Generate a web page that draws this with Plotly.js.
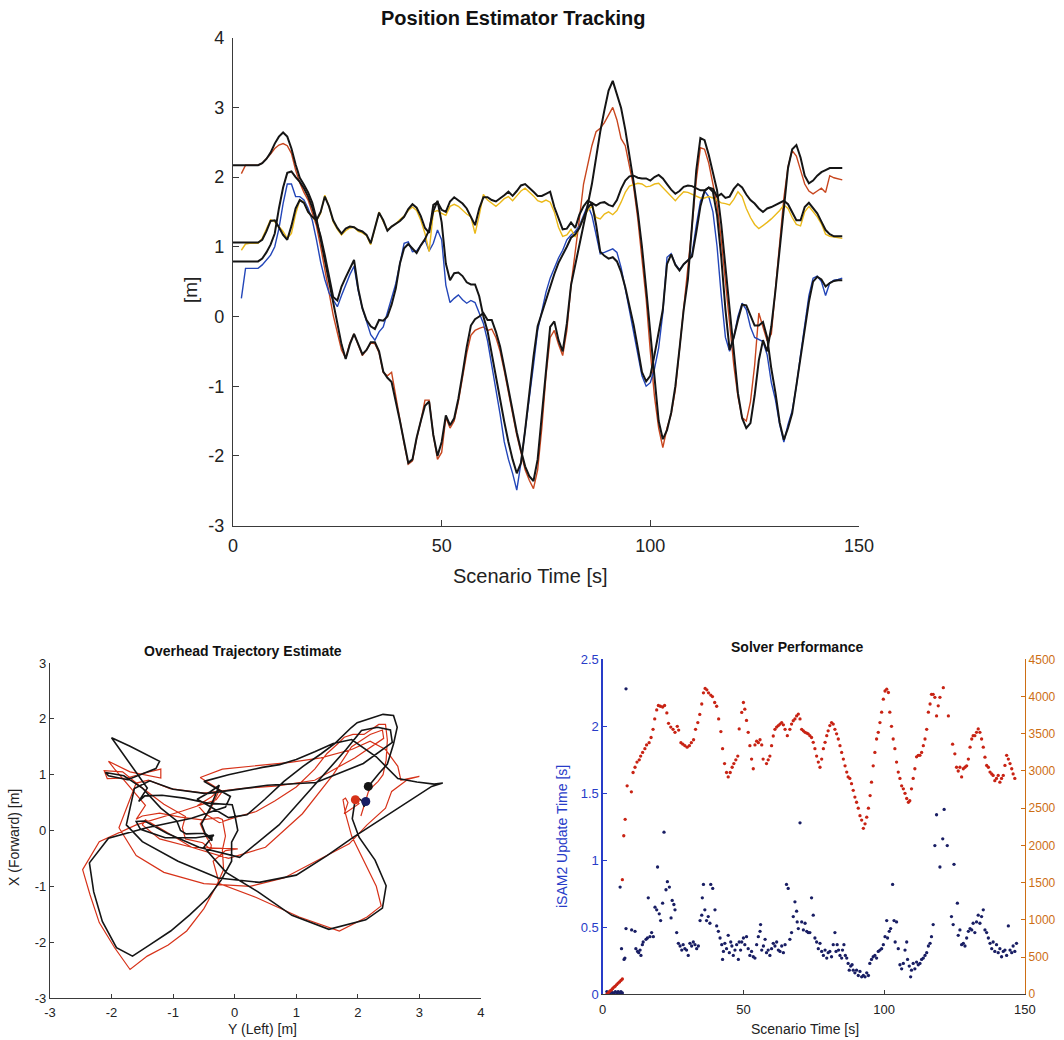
<!DOCTYPE html>
<html>
<head>
<meta charset="utf-8">
<script src="https://cdn.plot.ly/plotly-3.0.1.min.js"></script>
<style>html,body{margin:0;padding:0;background:#fff;}#chart{width:1064px;height:1040px;}</style>
</head>
<body>
<div id="chart"></div>
<script>
// ---------------- DATA ----------------
// Top chart: position tracking, sampled each second (0..146 s)
const scenarioTime = Array.from({length:147}, (_, i) => i);

// Truth "Y (Left)" position (black) and its estimate (red)
const truthLeft = [2.17,2.17,2.17,2.17,2.17,2.17,2.17,2.2,2.26,2.35,2.48,2.58,2.64,2.58,2.41,2.18,1.99,1.89,1.78,1.63,1.4,1.11,0.8,0.49,0.2,-0.1,-0.4,-0.61,-0.4,-0.25,-0.4,-0.54,-0.48,-0.37,-0.37,-0.5,-0.79,-0.88,-0.94,-1.2,-1.5,-1.8,-2.1,-2.05,-1.74,-1.5,-1.28,-1.22,-1.7,-2.0,-1.8,-1.42,-1.56,-1.46,-1.18,-0.82,-0.44,-0.13,-0.04,0.0,0.05,-0.05,-0.05,-0.22,-0.43,-0.73,-1.04,-1.38,-1.66,-1.92,-2.15,-2.29,-2.36,-2.05,-1.43,-0.7,-0.15,-0.07,-0.34,-0.5,-0.1,0.45,0.73,1.0,1.3,1.6,1.9,2.3,2.65,2.96,3.24,3.38,3.2,2.99,2.68,2.32,1.93,1.5,1.0,0.4,-0.27,-0.92,-1.5,-1.76,-1.63,-1.38,-1.0,-0.46,0.1,0.53,1.32,2.09,2.56,2.53,2.32,2.06,1.81,1.32,0.72,0.08,-0.58,-1.1,-1.46,-1.6,-1.53,-1.13,-0.63,-0.34,-0.5,-0.14,0.38,0.93,1.53,2.13,2.4,2.46,2.28,2.02,1.91,1.95,2.02,2.07,2.1,2.13,2.13,2.13,2.13];
const estLeft = [null,null,2.05,2.17,2.17,2.17,2.17,2.2,2.26,2.33,2.41,2.46,2.48,2.45,2.34,2.1,1.92,1.78,1.67,1.5,1.3,1.0,0.65,0.35,0.02,-0.25,-0.48,-0.6,-0.38,-0.25,-0.4,-0.56,-0.48,-0.38,-0.39,-0.52,-0.8,-0.85,-0.8,-1.15,-1.5,-1.82,-2.12,-2.07,-1.75,-1.5,-1.2,-1.2,-1.7,-2.05,-1.95,-1.45,-1.6,-1.5,-1.22,-0.88,-0.53,-0.27,-0.2,-0.17,-0.15,-0.2,-0.18,-0.3,-0.5,-0.78,-1.08,-1.42,-1.7,-1.95,-2.2,-2.35,-2.47,-2.2,-1.6,-0.85,-0.3,-0.2,-0.4,-0.56,-0.2,0.45,0.9,1.4,1.9,2.2,2.45,2.65,2.7,2.78,2.9,3.0,2.82,2.55,2.45,2.15,1.86,1.4,0.8,0.25,-0.5,-1.15,-1.6,-1.88,-1.6,-1.4,-1.05,-0.5,0.1,0.7,1.3,1.95,2.42,2.4,2.2,1.9,1.6,1.1,0.5,-0.1,-0.7,-1.15,-1.45,-1.5,-1.22,-0.7,0.05,-0.15,-0.35,-0.25,0.35,1.05,1.7,2.15,2.38,2.3,2.1,1.9,1.8,1.76,1.8,1.84,1.78,2.02,1.99,1.97,1.96];

// Truth "X (Forward)" position (black) and its estimate (blue)
const truthForward = [0.79,0.79,0.79,0.79,0.79,0.79,0.79,0.83,0.92,1.03,1.19,1.55,1.85,2.06,2.08,2.0,1.93,1.84,1.72,1.56,1.37,1.15,0.88,0.56,0.28,0.23,0.43,0.56,0.69,0.81,0.4,0.12,-0.05,-0.14,-0.18,-0.05,-0.06,0.0,0.17,0.4,0.76,0.98,1.04,0.98,0.91,1.02,1.11,1.24,1.51,1.66,1.35,0.76,0.52,0.62,0.63,0.58,0.49,0.46,0.46,0.29,0.0,-0.21,-0.55,-0.89,-1.2,-1.51,-1.8,-2.05,-2.25,-2.1,-1.63,-1.1,-0.58,-0.14,0.05,0.22,0.42,0.61,0.77,0.88,1.0,1.13,1.18,1.27,1.41,1.56,1.63,1.32,0.93,0.87,0.83,0.85,0.79,0.64,0.42,0.16,-0.12,-0.45,-0.8,-0.93,-0.85,-0.55,-0.2,0.1,0.75,0.89,0.74,0.66,0.75,0.81,0.86,1.2,1.58,1.8,1.85,1.79,1.45,0.85,0.1,-0.48,-0.3,-0.05,0.17,0.16,0.02,-0.13,-0.13,-0.08,-0.3,-0.75,-1.1,-1.52,-1.77,-1.6,-1.39,-0.99,-0.53,-0.12,0.21,0.5,0.57,0.53,0.43,0.48,0.51,0.52,0.52];
const estForward = [null,null,0.26,0.69,0.69,0.69,0.69,0.74,0.81,0.88,1.0,1.26,1.62,1.9,1.9,1.72,1.72,1.67,1.55,1.38,1.1,0.78,0.53,0.34,0.24,0.14,0.3,0.45,0.6,0.72,0.37,0.12,-0.08,-0.26,-0.34,-0.22,-0.15,0.05,0.25,0.47,0.76,1.05,1.07,0.93,0.94,1.02,1.1,0.94,1.05,1.24,1.1,0.45,0.2,0.26,0.31,0.24,0.19,0.23,0.2,0.05,-0.1,-0.35,-0.7,-1.0,-1.4,-1.8,-2.05,-2.25,-2.49,-2.1,-1.65,-1.15,-0.7,-0.2,0.1,0.35,0.55,0.7,0.84,0.95,1.1,1.17,1.22,1.3,1.45,1.6,1.45,1.15,0.9,0.92,0.94,0.97,0.92,0.7,0.4,0.1,-0.24,-0.5,-0.85,-1.0,-0.95,-0.75,-0.45,0.05,0.85,0.9,0.75,0.67,0.75,0.8,0.9,1.3,1.65,1.8,1.72,1.5,1.0,0.3,-0.3,-0.5,-0.3,0.0,0.19,0.1,-0.15,-0.3,-0.33,-0.36,-0.55,-0.95,-1.2,-1.55,-1.8,-1.55,-1.35,-1.0,-0.55,-0.1,0.3,0.55,0.58,0.5,0.3,0.48,0.52,0.53,0.55];

// Truth height (black) and its estimate (yellow)
const truthUp = [1.06,1.06,1.06,1.06,1.06,1.06,1.06,1.1,1.22,1.37,1.38,1.28,1.17,1.1,1.3,1.55,1.67,1.63,1.5,1.43,1.38,1.5,1.72,1.58,1.38,1.27,1.19,1.26,1.29,1.28,1.24,1.22,1.17,1.05,1.29,1.49,1.38,1.23,1.29,1.33,1.37,1.43,1.54,1.61,1.56,1.44,1.27,1.2,1.6,1.64,1.53,1.5,1.65,1.71,1.67,1.62,1.55,1.44,1.31,1.55,1.71,1.71,1.67,1.65,1.69,1.74,1.79,1.73,1.8,1.88,1.9,1.85,1.79,1.73,1.73,1.76,1.79,1.57,1.4,1.25,1.26,1.35,1.27,1.46,1.58,1.66,1.63,1.59,1.63,1.64,1.6,1.58,1.67,1.83,1.95,2.01,2.02,1.99,1.98,1.98,1.95,2.0,2.03,1.98,1.9,1.82,1.76,1.8,1.86,1.88,1.87,1.84,1.81,1.81,1.85,1.83,1.72,1.76,1.7,1.72,1.83,1.9,1.85,1.75,1.67,1.62,1.55,1.5,1.55,1.57,1.6,1.64,1.66,1.61,1.5,1.38,1.38,1.57,1.63,1.56,1.48,1.36,1.24,1.18,1.15,1.15,1.15];
const estUp = [null,null,0.95,1.04,1.05,1.05,1.05,1.12,1.26,1.39,1.36,1.29,1.22,1.12,1.19,1.47,1.67,1.64,1.5,1.42,1.37,1.48,1.74,1.58,1.36,1.25,1.17,1.23,1.27,1.28,1.22,1.2,1.16,1.03,1.27,1.5,1.36,1.24,1.29,1.33,1.39,1.44,1.52,1.57,1.52,1.38,1.19,0.93,1.5,1.52,1.48,1.45,1.58,1.61,1.58,1.52,1.47,1.43,1.19,1.45,1.75,1.67,1.62,1.58,1.63,1.69,1.72,1.66,1.73,1.8,1.84,1.79,1.73,1.66,1.64,1.67,1.64,1.5,1.28,1.15,1.17,1.25,1.14,1.28,1.42,1.52,1.58,1.42,1.4,1.47,1.5,1.46,1.52,1.64,1.78,1.87,1.89,1.91,1.9,1.86,1.87,1.9,1.91,1.85,1.78,1.72,1.66,1.73,1.79,1.78,1.75,1.72,1.7,1.7,1.72,1.7,1.67,1.63,1.62,1.6,1.68,1.79,1.72,1.55,1.42,1.32,1.26,1.3,1.35,1.4,1.46,1.52,1.6,1.55,1.42,1.32,1.3,1.5,1.58,1.5,1.43,1.33,1.18,1.15,1.14,1.13,1.12];

// Solver performance: iSAM2 update time [s] (left axis, blue dots)
const updTime = [1.5,2,2.5,3,3.5,4,4.5,5,5.5,6,6.5,7,6.2,6.7,7.6,7.9,8.3,8.3,10.3,11.5,11.8,12.4,12.8,13.3,13.6,14.1,14.4,15.4,15.9,16.2,16.8,17.4,18,18.6,19.2,19.5,20.1,20.6,21.3,21.8,22.5,23,23.7,24.3,24.7,25.3,25.7,26.3,26.9,27.5,28.1,28.6,29.2,29.8,30.4,31,31.6,32.2,32.8,33.4,34,34.6,35.2,35.4,35.8,36.3,36.9,37.5,38.1,38.4,39.1,39.9,40.5,41.1,41.7,42.3,42.6,42.9,43.4,44,44.6,45,45.5,45.9,46.4,47,47.6,48.2,48.5,49,49.4,50,50.5,51.1,51.7,52.3,52.9,53.5,54.1,54.7,55.3,55.9,56.1,56.5,57.1,57.7,58.2,58.8,59.4,60,60.6,61.2,61.8,62.4,63,63.6,64.2,64.8,65.3,65.9,66.5,67.1,67.7,68.3,68.9,69.1,69.5,70.1,70.7,71.3,71.9,72.5,73,73.6,74.2,74.8,75.4,76,76.6,77.2,77.8,78.4,79,79.6,80.1,80.7,81.3,81.9,82.5,82.9,83.3,83.8,84.3,84.9,85.2,85.7,86.2,86.7,87.2,87.6,88.1,88.6,89,89.6,90.2,90.8,91.4,92,92.6,93.2,93.8,94.4,94.9,95.5,96.1,96.7,97.3,97.9,98.5,99.1,99.7,100.3,100.9,101.2,101.8,102.3,103,103.5,103.9,104.4,105,105.6,106.2,106.8,107.4,108,108.3,108.9,109.4,109.7,110.3,110.9,111.5,112.1,112.7,113.3,113.9,114.5,115.1,115.7,116.3,116.8,117.4,118,118.6,119.8,120.8,121.3,122.4,123.9,124.5,124.8,126,126.3,126.9,127.5,128.1,128.7,129.3,129.9,130.5,131.1,131.6,132.2,132.8,133.4,134,134.6,135.2,135.8,136.4,137,137.6,138.2,138.7,139.3,139.9,140.5,141.1,141.7,142.3,142.9,143.5,144.1,144.7,145.3,145.8,146.4,147];
const updValue = [0.02,0.01,0.01,0.02,0.01,0.01,0.02,0.01,0.02,0.01,0.02,0.01,0.8,0.34,0.26,0.27,0.49,2.28,0.48,0.47,0.34,0.32,0.31,0.33,0.29,0.37,0.39,0.41,0.42,0.72,0.43,0.46,0.43,0.65,0.63,0.95,0.6,0.55,0.68,1.21,0.78,0.84,0.8,0.57,0.7,0.67,0.63,0.46,0.38,0.36,0.33,0.37,0.34,0.33,0.29,0.38,0.36,0.39,0.37,0.34,0.36,0.55,0.59,0.72,0.82,0.63,0.55,0.58,0.53,0.82,0.79,0.63,0.51,0.47,0.42,0.37,0.26,0.32,0.38,0.34,0.44,0.31,0.39,0.36,0.29,0.33,0.37,0.26,0.39,0.33,0.39,0.42,0.37,0.43,0.34,0.29,0.32,0.28,0.27,0.37,0.43,0.47,0.52,0.33,0.36,0.41,0.31,0.33,0.29,0.34,0.38,0.36,0.39,0.33,0.32,0.36,0.31,0.37,0.82,0.79,0.41,0.46,0.58,0.69,0.62,0.54,0.49,1.28,0.54,0.48,0.53,0.47,0.46,0.46,0.72,0.59,0.42,0.39,0.34,0.38,0.32,0.29,0.33,0.27,0.31,0.32,0.28,0.37,0.46,0.32,0.37,0.33,0.29,0.27,0.33,0.37,0.29,0.27,0.23,0.18,0.21,0.22,0.18,0.16,0.18,0.14,0.17,0.13,0.14,0.13,0.16,0.14,0.23,0.26,0.28,0.29,0.27,0.32,0.33,0.34,0.37,0.43,0.55,0.42,0.47,0.49,0.82,0.55,0.39,0.54,0.34,0.22,0.19,0.23,0.33,0.39,0.26,0.21,0.13,0.18,0.23,0.19,0.24,0.22,0.23,0.26,0.27,0.29,0.31,0.36,0.38,0.43,0.52,1.11,1.34,0.95,1.16,1.38,1.11,0.58,0.52,0.97,0.68,0.44,0.48,0.37,0.38,0.36,0.42,0.47,0.49,0.48,0.53,0.46,0.54,0.59,0.53,0.58,0.63,0.48,0.46,0.42,0.38,0.34,0.39,0.32,0.37,0.31,0.34,0.28,0.32,0.33,0.29,0.51,0.33,0.31,0.36,0.32,0.38];

// Solver performance: right-axis count (red dots)
const cntTime = [1.5,2,2.5,3,3.5,4,4.5,5,5.5,6,6.5,7,7.0,7.5,8.0,8.7,10.2,10.8,11.5,12.2,13,13.5,14.2,15,15.6,16.5,17.2,17.9,18.5,19.2,19.8,20.5,21.3,22,22.8,23.4,24.2,25,25.7,26.5,27,27.8,28.5,29.2,30,30.8,31.5,32.3,33,33.8,34.5,35.2,35.8,36.4,37,37.6,38.4,39,39.8,40.5,41.2,42,42.6,43.3,44,44.6,45.3,46,46.6,47.3,48,48.5,49.4,50,50.5,51.1,51.7,52.3,52.9,53.5,54.1,54.7,55.3,55.9,56.5,57,58.2,58.8,59.4,60,60.6,61.2,61.8,62.4,63,63.6,64.2,64.8,65.6,66.5,67.1,67.7,68.3,68.9,69.5,70.1,70.7,71.3,71.9,72.5,73,73.6,74.2,74.8,75.4,76,76.6,77.2,77.8,78.4,79,79.6,80.1,80.7,81.3,81.9,82.5,83.1,83.7,84.3,84.9,85.5,86.1,86.7,87.2,87.8,88.4,89,89.6,90.2,90.8,91.4,92,92.6,93.2,93.8,94.4,95,95.5,96.1,96.7,97.3,97.9,98.5,99.1,99.7,100.3,100.9,101.5,102,102.6,103.2,103.8,104.4,105,105.6,106.2,106.8,107.4,108,108.6,109.1,109.7,110.3,110.9,111.5,112.1,112.7,113.3,113.9,114.5,115.1,115.7,116.3,116.8,117.4,118,118.6,119.2,119.8,121,122.8,124.3,125.1,125.7,126.3,126.9,127.5,128.1,128.7,129.3,129.9,130.5,131.1,131.6,132.2,132.8,133.4,134,134.6,135.2,135.8,136.4,137,137.6,138.2,138.7,139.3,139.9,140.5,141.1,141.7,142.3,142.9,143.5,144.1,144.7,145.3,145.8,146.4];
const cntValue = [0,20,40,55,75,95,110,130,150,165,185,205,1540,2130,2350,2800,2720,2980,3050,3120,3150,3200,3250,3300,3350,3380,3450,3560,3700,3820,3880,3870,3860,3880,3780,3640,3590,3560,3520,3600,3550,3380,3360,3340,3320,3340,3380,3420,3560,3650,3760,3900,4050,4110,4090,4050,4020,4000,3920,3870,3700,3530,3300,3100,2980,2920,2980,3050,3100,3150,3200,3565,3787,3920,3830,3680,3520,3340,3160,3030,3350,3400,3380,3420,3350,3160,3100,3150,3200,3340,3470,3560,3590,3610,3630,3650,3620,3560,3475,3560,3630,3675,3700,3740,3765,3700,3560,3540,3520,3510,3500,3475,3450,3385,3300,3200,3120,3050,3160,3300,3385,3475,3540,3610,3650,3630,3560,3500,3430,3340,3250,3160,3070,2985,2920,2900,2830,2740,2650,2580,2500,2400,2340,2230,2290,2380,2500,2670,2850,3070,3250,3430,3520,3650,3790,3965,4075,4100,4055,3790,3600,3430,3300,3120,2985,2900,2800,2760,2700,2630,2580,2600,2760,2900,3030,3190,3210,3210,3250,3340,3430,3560,3790,3900,4030,4030,3990,3740,3875,3990,4120,3740,3360,3230,3050,3000,3050,2920,3030,3050,3070,3160,3320,3430,3475,3475,3520,3565,3520,3430,3320,3185,3075,3050,2985,2960,2940,2870,2900,2940,2850,2900,2940,3075,3210,3160,3100,3030,2960,2900];

// Tick labels
const posTicks = [-3,-2,-1,0,1,2,3,4];
const posTickText = ['-3','-2','-1','0','1','2','3','4'];
const ovhTicksX = [-3,-2,-1,0,1,2,3,4];
const ovhTicksXText = ['-3','-2','-1','0','1','2','3','4'];
const ovhTicksY = [-3,-2,-1,0,1,2,3];
const ovhTicksYText = ['-3','-2','-1','0','1','2','3'];
const timeTicks = [0,50,100,150];
const updTicks = [0,0.5,1,1.5,2,2.5];
const updTickText = ['0','0.5','1','1.5','2','2.5'];
const cntTicks = [0,500,1000,1500,2000,2500,3000,3500,4000,4500];

// ---------------- STYLE ----------------
const FONT = 'Liberation Sans, Arial, Helvetica, sans-serif';
const C_BLACK = '#151515';
const C_RED = 'rgb(200,70,30)';
const C_BLUE = 'rgb(35,70,185)';
const C_YEL = 'rgb(235,185,25)';
const C_OVRED = 'rgb(215,50,25)';
const C_NAVY = 'rgb(25,30,100)';
const C_DOTRED = 'rgb(200,35,20)';
const C_AXBLUE = 'rgb(40,60,200)';
const C_AXORANGE = 'rgb(205,110,20)';

const last = scenarioTime.length - 1;

const traces = [
  // top: estimates
  {x: scenarioTime, y: estLeft, mode:'lines', line:{color:C_RED, width:1.4}, xaxis:'x', yaxis:'y'},
  {x: scenarioTime, y: estForward, mode:'lines', line:{color:C_BLUE, width:1.4}, xaxis:'x', yaxis:'y'},
  {x: scenarioTime, y: estUp, mode:'lines', line:{color:C_YEL, width:1.4}, xaxis:'x', yaxis:'y'},
  // top: truth
  {x: scenarioTime, y: truthLeft, mode:'lines', line:{color:C_BLACK, width:2}, xaxis:'x', yaxis:'y'},
  {x: scenarioTime, y: truthForward, mode:'lines', line:{color:C_BLACK, width:2}, xaxis:'x', yaxis:'y'},
  {x: scenarioTime, y: truthUp, mode:'lines', line:{color:C_BLACK, width:2}, xaxis:'x', yaxis:'y'},
  // overhead
  {x: estLeft, y: estForward, mode:'lines', line:{color:C_OVRED, width:1.2}, xaxis:'x2', yaxis:'y2'},
  {x: truthLeft, y: truthForward, mode:'lines', line:{color:C_BLACK, width:1.6}, xaxis:'x2', yaxis:'y2'},
  {x: [truthLeft[0]], y: [truthForward[0]], mode:'markers', marker:{color:C_BLACK, size:9}, xaxis:'x2', yaxis:'y2'},
  {x: [estLeft[last]], y: [estForward[last]], mode:'markers', marker:{color:C_OVRED, size:9}, xaxis:'x2', yaxis:'y2'},
  {x: [truthLeft[last]], y: [truthForward[last]], mode:'markers', marker:{color:C_NAVY, size:9}, xaxis:'x2', yaxis:'y2'},
  // solver
  {x: cntTime, y: cntValue, mode:'markers', marker:{color:C_DOTRED, size:3.3}, xaxis:'x3', yaxis:'y4'},
  {x: updTime, y: updValue, mode:'markers', marker:{color:C_NAVY, size:3.3}, xaxis:'x3', yaxis:'y3'}
];

const axBase = {showgrid:false, zeroline:false, showline:true, linecolor:'#3a3a3a', linewidth:1.2,
  ticks:'inside', ticklen:6, tickcolor:'#3a3a3a', fixedrange:true};

function ann(text, px, py, size, extra) {
  return Object.assign({text:text, x:px/1064, y:1-py/1040, xref:'paper', yref:'paper',
    xanchor:'center', yanchor:'middle', showarrow:false, font:{size:size, color:'#222'}}, extra || {});
}

const layout = {
  width:1064, height:1040, margin:{l:0,r:0,t:0,b:0}, showlegend:false,
  paper_bgcolor:'#fff', plot_bgcolor:'rgba(0,0,0,0)',
  font:{family:FONT, color:'#222'},
  xaxis: Object.assign({}, axBase, {domain:[0.219,0.8073], range:[0,150], tickvals:timeTicks, anchor:'y', tickfont:{size:18}, ticklabelstandoff:4}),
  yaxis: Object.assign({}, axBase, {domain:[0.4946,0.9638], range:[-3,4], tickvals:posTicks, ticktext:posTickText, anchor:'x', tickfont:{size:18}, ticklabelstandoff:4}),
  xaxis2: Object.assign({}, axBase, {domain:[0.047,0.452], range:[-3,4], tickvals:ovhTicksX, ticktext:ovhTicksXText, anchor:'y2', tickfont:{size:13}, ticklen:4, ticklabelstandoff:2}),
  yaxis2: Object.assign({}, axBase, {domain:[0.0404,0.3625], range:[-3,3], tickvals:ovhTicksY, ticktext:ovhTicksYText, anchor:'x2', tickfont:{size:13}, ticklen:4}),
  xaxis3: Object.assign({}, axBase, {domain:[0.5664,0.9633], range:[0,150], tickvals:timeTicks, anchor:'y3', tickfont:{size:13}, ticklen:4, ticklabelstandoff:3}),
  yaxis3: Object.assign({}, axBase, {domain:[0.044,0.366], range:[0,2.5], tickvals:updTicks, ticktext:updTickText, anchor:'x3', tickfont:{size:13, color:C_AXBLUE}, linecolor:C_AXBLUE, tickcolor:C_AXBLUE, ticklen:4}),
  yaxis4: Object.assign({}, axBase, {domain:[0.044,0.366], range:[0,4500], tickvals:cntTicks, overlaying:'y3', side:'right', anchor:'x3', tickfont:{size:12, color:C_AXORANGE}, linecolor:C_AXORANGE, tickcolor:C_AXORANGE, ticklen:4}),
  annotations: [
    ann('<b>Position Estimator Tracking</b>', 513, 18, 20, {font:{size:20, color:'#111'}}),
    ann('Scenario Time [s]', 530, 576, 20),
    ann('[m]', 190, 290, 19, {textangle:-90}),
    ann('<b>Overhead Trajectory Estimate</b>', 243, 651, 14, {font:{size:14, color:'#111'}}),
    ann('Y (Left) [m]', 262, 1029, 14),
    ann('X (Forward) [m]', 14, 838, 14, {textangle:-90}),
    ann('<b>Solver Performance</b>', 797, 647, 14, {font:{size:14, color:'#111'}}),
    ann('Scenario Time [s]', 805, 1029, 14),
    ann('iSAM2 Update Time [s]', 562, 837, 14, {textangle:-90, font:{size:14, color:C_AXBLUE}})
  ]
};

Plotly.newPlot('chart', traces, layout, {displayModeBar:false, staticPlot:true});
</script>
</body>
</html>
